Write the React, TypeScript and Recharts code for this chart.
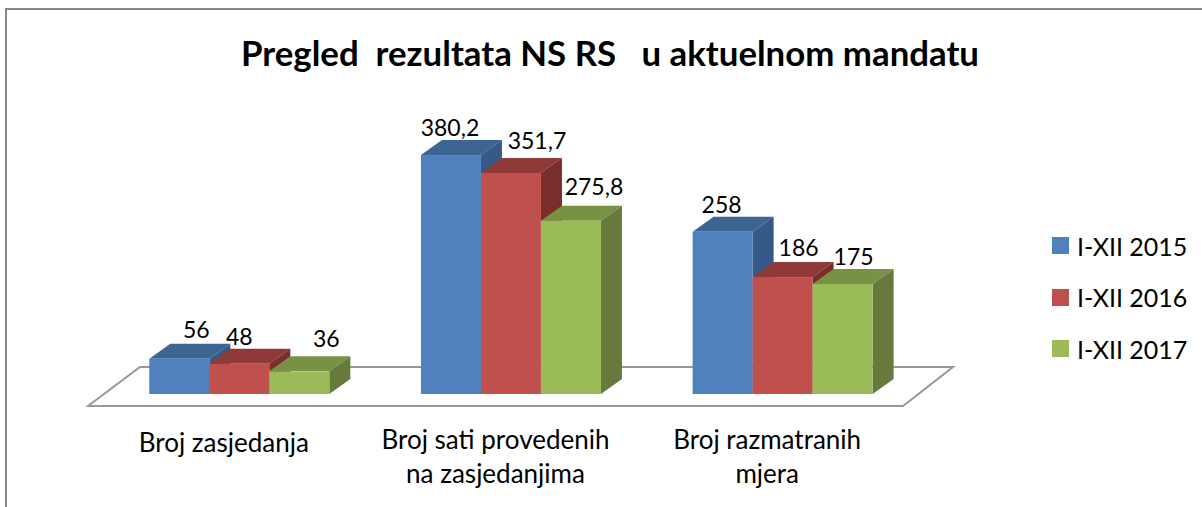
import React from 'react';
import { BarChart, Bar, XAxis, YAxis, Legend, LabelList, ReferenceArea } from 'recharts';

const categories = ['Broj zasjedanja', 'Broj sati provedenih\nna zasjedanjima', 'Broj razmatranih\nmjera'];
const values2015 = [56, 380.2, 258];
const values2016 = [48, 351.7, 186];
const values2017 = [36, 275.8, 175];
const valueLabels2015 = ['56', '380,2', '258'];
const valueLabels2016 = ['48', '351,7', '186'];
const valueLabels2017 = ['36', '275,8', '175'];

const chartData = categories.map((name, i) => ({
  name,
  y2015: values2015[i],
  y2016: values2016[i],
  y2017: values2017[i],
}));

const FONT = 'Lato, Carlito, sans-serif';
const DEPTH_X = 21;
const DEPTH_Y = 15;

// data labels were moved by hand in the original, so each one has its own nudge
const nudge2015 = [[17, -30], [-1, -28], [-1, -28]];
const nudge2016 = [[0, -28], [26, -33], [16, -30]];
const nudge2017 = [[27, -33], [23, -35], [11, -28]];

const Box3D = ({ x, y, width, height, front, top, side }: any) => {
  const r = x + width;
  const b = y + height;
  return (
    <g>
      <polygon points={`${x},${y} ${x + DEPTH_X},${y - DEPTH_Y} ${r + DEPTH_X},${y - DEPTH_Y} ${r},${y}`} fill={top} />
      <polygon points={`${r},${y} ${r + DEPTH_X},${y - DEPTH_Y} ${r + DEPTH_X},${b - DEPTH_Y} ${r},${b}`} fill={side} />
      <rect x={x} y={y} width={width} height={height} fill={front} />
    </g>
  );
};

const Floor = ({ x, y, width, height }: any) => {
  const l = x;
  const r = x + width;
  const base = y + height;
  return (
    <polygon
      points={`${l - 16},${base + 12} ${l + 36},${base - 27} ${r + 34},${base - 27} ${r - 16},${base + 12}`}
      fill="#fff"
      stroke="#979797"
      strokeWidth={2}
    />
  );
};

const CategoryTick = ({ x, y, payload, index }: any) => {
  const lines = String(payload.value).split('\n');
  return (
    <text x={x - 16} y={index === 0 ? y + 3 : y} textAnchor="middle" fontFamily={FONT} fontSize={26} fill="#000">
      {lines.map((line, i) => (
        <tspan key={i} x={x - 16} dy={i === 0 ? 0 : 34}>{line}</tspan>
      ))}
    </text>
  );
};

const makeLabel = (texts: string[], nudges: number[][]) => ({ x, y, width, index }: any) => (
  <text
    x={x + width / 2 + nudges[index][0]}
    y={y + nudges[index][1]}
    textAnchor="middle"
    dominantBaseline="central"
    fontFamily={FONT}
    fontSize={23}
    fill="#000"
  >
    {texts[index]}
  </text>
);

const LegendBox = ({ payload }: any) => (
  <div style={{ fontFamily: FONT, fontSize: 25, color: '#000' }}>
    {payload.map((item: any) => (
      <div key={item.value} style={{ display: 'flex', alignItems: 'center', height: 51.5 }}>
        <span style={{ width: 17, height: 17, background: item.color, marginRight: 8 }} />
        {item.value}
      </div>
    ))}
  </div>
);

export default function App() {
  return (
    <div style={{ position: 'absolute', left: 0, top: 0, width: 1202, height: 507, background: '#fff', overflow: 'hidden' }}>
      <div style={{ position: 'absolute', left: 5, top: 8, width: 1200, height: 510, border: '2px solid #868686', boxSizing: 'border-box' }} />
      <div style={{ position: 'absolute', left: 0, top: 33, width: 1220, lineHeight: '40px', textAlign: 'center', fontFamily: FONT, fontWeight: 700, fontSize: 34.8, color: '#000', whiteSpace: 'pre' }}>
        {'Pregled  rezultata NS RS   u aktuelnom mandatu'}
      </div>
      <BarChart
        width={1202}
        height={507}
        data={chartData}
        barGap={0}
        barCategoryGap="16.67%"
        margin={{ top: 142.6, right: 133, bottom: 0, left: 104 }}
        style={{ position: 'absolute', left: 0, top: 0 }}
      >
        <XAxis dataKey="name" axisLine={false} tickLine={false} interval={0} tick={<CategoryTick />} tickMargin={49} height={113} />
        <YAxis hide domain={[0, 400]} width={0} />
        <ReferenceArea y1={0} y2={400} ifOverflow="visible" shape={<Floor />} />
        <Legend
          layout="vertical"
          align="right"
          verticalAlign="top"
          wrapperStyle={{ left: 1052, top: 220, width: 150 }}
          content={<LegendBox />}
        />
        <Bar dataKey="y2015" name="I-XII 2015" fill="#4F81BD" isAnimationActive={false} shape={<Box3D front="#4F81BD" top="#3D6594" side="#355A88" />}>
          <LabelList content={makeLabel(valueLabels2015, nudge2015)} />
        </Bar>
        <Bar dataKey="y2016" name="I-XII 2016" fill="#C0504D" isAnimationActive={false} shape={<Box3D front="#C0504D" top="#8F3A38" side="#7A2E2C" />}>
          <LabelList content={makeLabel(valueLabels2016, nudge2016)} />
        </Bar>
        <Bar dataKey="y2017" name="I-XII 2017" fill="#9BBB59" isAnimationActive={false} shape={<Box3D front="#9BBB59" top="#789145" side="#667A3B" />}>
          <LabelList content={makeLabel(valueLabels2017, nudge2017)} />
        </Bar>
      </BarChart>
    </div>
  );
}
